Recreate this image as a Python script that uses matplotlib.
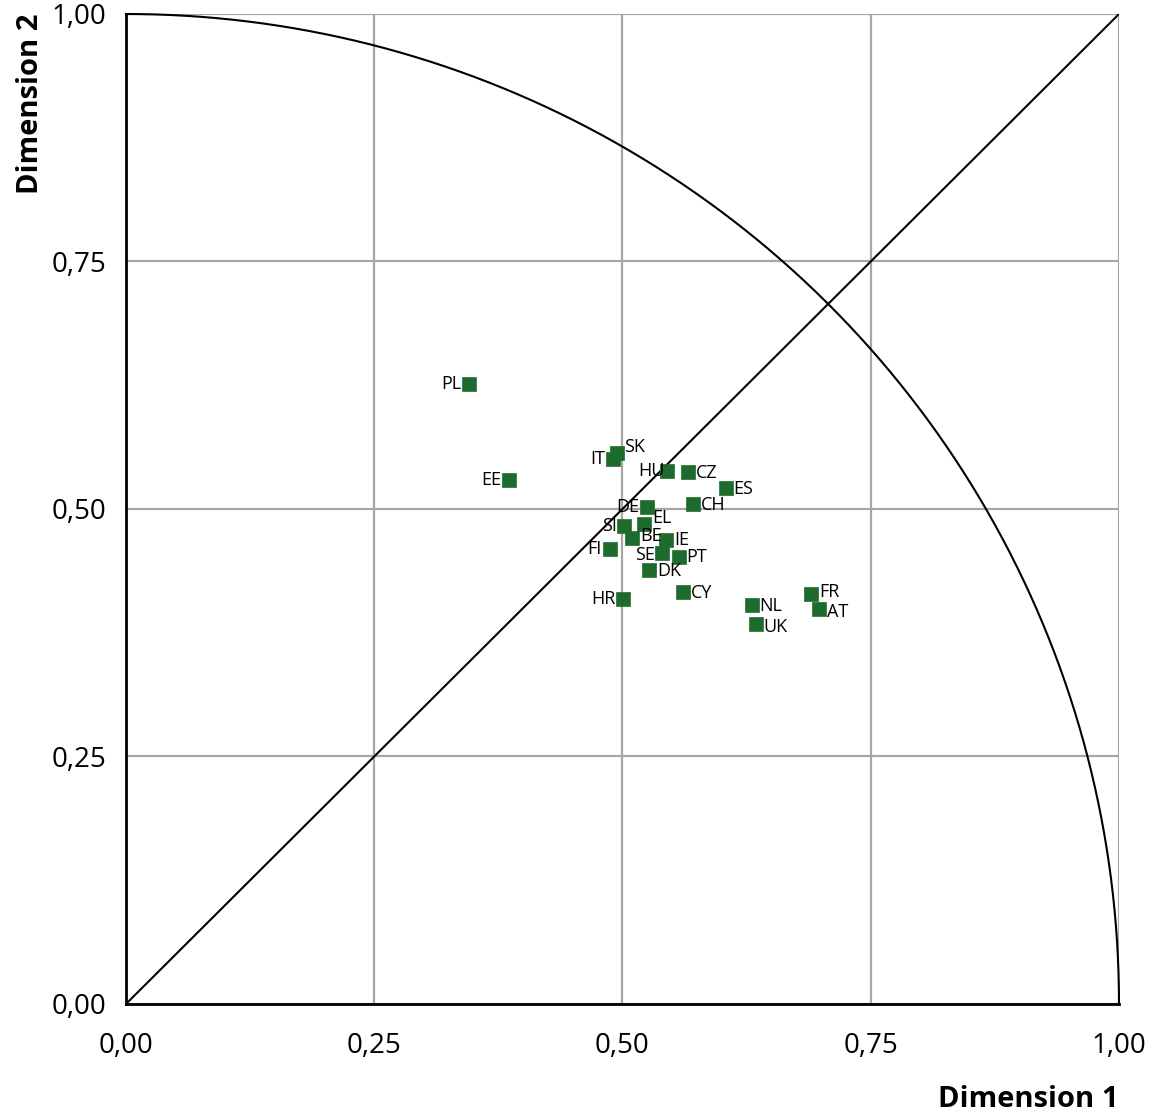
import numpy as np
import matplotlib
matplotlib.use("Agg")
import matplotlib.pyplot as plt

plt.rcParams['font.family'] = ['Open Sans', 'DejaVu Sans']

countries = ['PL', 'EE', 'SK', 'IT', 'HU', 'CZ', 'ES', 'CH', 'DE', 'EL', 'SI', 'BE',
             'IE', 'FI', 'SE', 'PT', 'DK', 'CY', 'HR', 'NL', 'UK', 'FR', 'AT']
dim1 = [0.345, 0.386, 0.494, 0.490, 0.545, 0.566, 0.604, 0.571, 0.525, 0.522, 0.502, 0.510,
        0.544, 0.487, 0.540, 0.557, 0.527, 0.561, 0.501, 0.630, 0.634, 0.690, 0.698]
dim2 = [0.626, 0.529, 0.557, 0.550, 0.538, 0.537, 0.521, 0.505, 0.502, 0.485, 0.483, 0.471,
        0.469, 0.460, 0.456, 0.452, 0.438, 0.416, 0.409, 0.403, 0.384, 0.414, 0.399]
# label placement: l = left, r = right, ru = right/up, rd = right/down,
# lo = left overlapping, ld = left/down, rs = right/slightly up
placement = ['l', 'l', 'ru', 'l', 'lo', 'r', 'r', 'r', 'l', 'ru', 'l', 'rs',
             'r', 'l', 'ld', 'r', 'r', 'r', 'l', 'r', 'rd', 'rs', 'rd']
ticks = [0.0, 0.25, 0.5, 0.75, 1.0]
tick_labels = ['0,00', '0,25', '0,50', '0,75', '1,00']

fig = plt.figure(figsize=(11.59, 11.2), dpi=100)
ax = fig.add_axes([0.1087, 0.1036, 0.8568, 0.8839])

ax.set_xlim(0, 1)
ax.set_ylim(0, 1)
ax.set_xticks(ticks)
ax.set_yticks(ticks)
ax.set_xticklabels(tick_labels)
ax.set_yticklabels(tick_labels)
ax.tick_params(axis='x', labelsize=20, length=0, pad=20)
ax.tick_params(axis='y', labelsize=20, length=0, pad=14)
ax.grid(True, color='#a6a6a6', linewidth=1.6)
ax.set_axisbelow(True)
for s in ax.spines.values():
    s.set_visible(False)
ax.spines['left'].set_visible(True)
ax.spines['bottom'].set_visible(True)
ax.spines['left'].set_linewidth(2)
ax.spines['bottom'].set_linewidth(2)

# quarter circle and diagonal
t = np.linspace(0, np.pi / 2, 400)
ax.plot(np.cos(t), np.sin(t), color='black', lw=1.5, clip_on=False)
ax.plot([0, 1], [0, 1], color='black', lw=1.5)

ax.scatter(dim1, dim2, marker='s', s=92, color='#1e6b2e', edgecolors='#1e6b2e',
           linewidths=0.5, zorder=3)

offsets = {'l': (-5.5, 0, 'right'),
           'ld': (-5.5, -2, 'right'),
           'lo': (-2, 0, 'right'),
           'r': (5.5, -0.5, 'left'),
           'rs': (5.5, 1.5, 'left'),
           'ru': (5.5, 4, 'left'),
           'rd': (5.5, -2.5, 'left')}
for c, x, y, p in zip(countries, dim1, dim2, placement):
    dx, dy, ha = offsets[p]
    ax.annotate(c, (x, y), xytext=(dx, dy), textcoords='offset points',
                ha=ha, va='center', fontsize=13, zorder=4)

ax.set_xlabel('Dimension 1', fontsize=21, fontweight='bold', loc='right', labelpad=18)
ax.set_ylabel('Dimension 2', fontsize=21, fontweight='bold', loc='top', labelpad=5)

fig.savefig('out.png', dpi=100)
